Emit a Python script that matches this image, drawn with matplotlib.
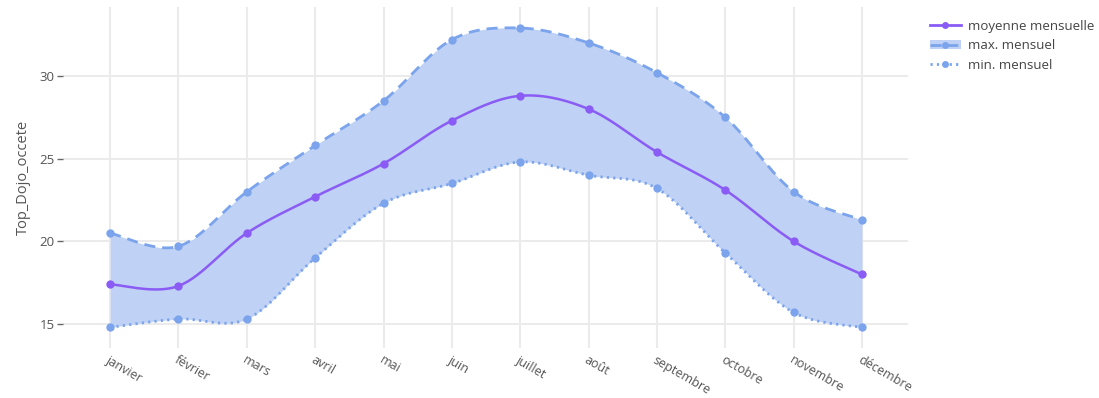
import numpy as np
import matplotlib
matplotlib.use("Agg")
import matplotlib.pyplot as plt
from matplotlib.lines import Line2D
from matplotlib.patches import Patch

plt.rcParams['font.family'] = ['Open Sans', 'DejaVu Sans']

mois = ['janvier', 'février', 'mars', 'avril', 'mai', 'juin', 'juillet',
        'août', 'septembre', 'octobre', 'novembre', 'décembre']
moyenne = [17.4, 17.3, 20.5, 22.7, 24.7, 27.3, 28.8, 28.0, 25.4, 23.1, 20.0, 18.0]
maxi = [20.5, 19.7, 23.0, 25.8, 28.5, 32.2, 32.9, 32.0, 30.2, 27.5, 23.0, 21.3]
mini = [14.8, 15.3, 15.3, 19.0, 22.3, 23.5, 24.8, 24.0, 23.2, 19.3, 15.7, 14.8]

purple = '#8a5cf5'
blue = '#7ba4ec'
fill = '#bfd1f4'
grid = '#ebebeb'
txt = '#555555'


def spline(y, n=30, t=0.5):
    # cardinal spline through the points, close to plotly's "spline" shape
    y = np.asarray(y, float)
    x = np.arange(len(y), dtype=float)
    xs, ys = [], []
    for i in range(len(y) - 1):
        p0 = i - 1 if i > 0 else i
        p3 = i + 2 if i + 2 < len(y) else i + 1
        mx1 = t * (x[i + 1] - x[p0])
        mx2 = t * (x[p3] - x[i])
        my1 = t * (y[i + 1] - y[p0])
        my2 = t * (y[p3] - y[i])
        s = np.linspace(0, 1, n, endpoint=False)
        h00 = 2 * s**3 - 3 * s**2 + 1
        h10 = s**3 - 2 * s**2 + s
        h01 = -2 * s**3 + 3 * s**2
        h11 = s**3 - s**2
        xs.append(h00 * x[i] + h10 * mx1 + h01 * x[i + 1] + h11 * mx2)
        ys.append(h00 * y[i] + h10 * my1 + h01 * y[i + 1] + h11 * my2)
    xs.append([x[-1]])
    ys.append([y[-1]])
    return np.concatenate(xs), np.concatenate(ys)


fig = plt.figure(figsize=(10.99, 3.98), dpi=100)
ax = fig.add_axes([0.0573, 0.1256, 0.7687, 0.8568])

xi = np.arange(len(mois))
xmx, ymx = spline(maxi)
xmn, ymn = spline(mini)
xmo, ymo = spline(moyenne)

ax.fill_between(xmx, ymn, ymx, color=fill, lw=0, zorder=2)
ax.plot(xmx, ymx, color=blue, lw=2, ls=(0, (4, 2.5)), zorder=3)
ax.plot(xmn, ymn, color=blue, lw=2, ls=(0, (0.8, 1.5)), zorder=3)
ax.plot(xi, maxi, 'o', color=blue, ms=6, mec='none', zorder=4)
ax.plot(xi, mini, 'o', color=blue, ms=6, mec='none', zorder=4)
ax.plot(xmo, ymo, color=purple, lw=1.8, zorder=5)
ax.plot(xi, moyenne, 'o', color=purple, ms=6, mec='none', zorder=6)

ax.set_xlim(-0.69, 11.67)
ax.set_ylim(13.55, 34.17)
ax.set_xticks(xi)
ax.set_xticklabels(mois, rotation=-30, ha='left', va='top',
                   rotation_mode='anchor', fontsize=9, color=txt)
ax.set_yticks([15, 20, 25, 30])
ax.tick_params(axis='x', length=0, pad=4)
ax.tick_params(axis='y', length=4, width=1, color='#666666', labelsize=9.5,
               labelcolor=txt, pad=2)
ax.grid(True, color=grid, lw=1.5, zorder=0)
ax.set_axisbelow(True)
for s in ax.spines.values():
    s.set_visible(False)
ax.set_ylabel('Top_Dojo_occete', fontsize=10.5, color=txt, labelpad=6)

h_moy = Line2D([], [], color=purple, lw=2, marker='o', ms=5, mec='none')
h_max = (Patch(color=fill, lw=0),
         Line2D([], [], color=blue, lw=2, ls=(0, (4, 2)), marker='o', ms=5, mec='none'))
h_min = Line2D([], [], color=blue, lw=2, ls=(0, (0.8, 1.5)), marker='o', ms=5, mec='none')
fig.legend([h_moy, h_max, h_min],
           ['moyenne mensuelle', 'max. mensuel', 'min. mensuel'],
           loc='upper left', bbox_to_anchor=(0.835, 0.98), frameon=False,
           fontsize=9.5, labelcolor='#444444', handlelength=2.4,
           handletextpad=0.5, labelspacing=0.5)

fig.savefig('out.png', dpi=100)
